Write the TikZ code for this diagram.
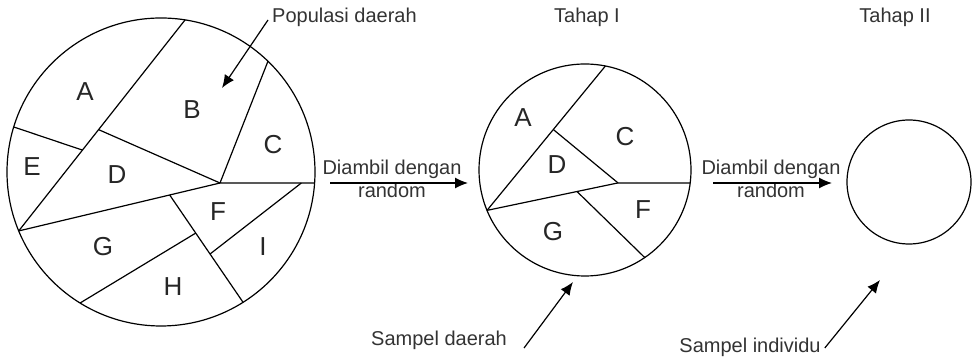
\documentclass[tikz,border=0pt]{standalone}
\usepackage{fontspec}
\setmainfont{Liberation Sans}
\usetikzlibrary{calc}
\usetikzlibrary{arrows.meta}
\tikzset{
   part/.style={draw=black, line width=1.2pt},
   region/.style={font=\fontsize{26}{28}\selectfont, text=black!85, inner sep=0pt},
   caption/.style={font=\fontsize{20}{23}\selectfont, text=black!80, align=center, inner sep=0pt},
   pointer/.style={draw=black, line width=1.2pt, -{Latex[length=13pt,width=11pt]}},
    }

\begin{document}
\begin{tikzpicture}[x=1pt,y=1pt]
            \useasboundingbox (0,0) rectangle (974,363);
            % populasi daerah
            \coordinate (pc) at (161,191);
            \draw[part] (pc) circle[radius=154pt];
            \coordinate (pt) at ($(pc)+(81:154)$);
            \coordinate (pl) at ($(pc)+(202.5:154)$);
            \coordinate (pe) at ($(pc)+(163:154)$);
            \coordinate (pk) at ($(pc)+(46:154)$);
            \coordinate (pr) at ($(pc)+(-4.1:154)$);
            \coordinate (pb) at ($(pc)+(-57.8:154)$);
            \coordinate (ph) at ($(pc)+(238.3:154)$);
            \coordinate (phub) at (pr -| 220,0);
            \coordinate (pfg) at ($(pl)!0.75!(phub)$);
            \draw[part] (pt) to (pl);
            \draw[part] (pe) to ($(pt)!0.617!(pl)$);
            \draw[part] ($(pt)!0.52!(pl)$) to (phub);
            \draw[part] (pk) to (phub) to (pr);
            \draw[part] (pl) to (phub);
            \draw[part] (pfg) to (pb);
            \draw[part] (ph) to ($(pfg)!0.355!(pb)$);
            \draw[part] ($(phub)!0.86!(pr)$) to ($(pfg)!0.55!(pb)$);
            \node[region] (pA) at (85,271) {A};
            \node[region] (pB) at (192,253) {B};
            \node[region] (pC) at (273,218) {C};
            \node[region] (pE) at (32,196) {E};
            \node[region] (pD) at (117,188) {D};
            \node[region] (pF) at (218,151) {F};
            \node[region] (pG) at (103,116) {G};
            \node[region] (pH) at (173,76) {H};
            \node[region] (pI) at (263,116) {I};
            % tahap I
            \coordinate (sc) at (585,193);
            \draw[part] (sc) circle[radius=106pt];
            \coordinate (st) at ($(sc)+(78.9:106)$);
            \coordinate (sl) at ($(sc)+(202.4:106)$);
            \coordinate (sr) at ($(sc)+(-7:106)$);
            \coordinate (sb) at ($(sc)+(-55.7:106)$);
            \coordinate (shub) at (sr -| 618,0);
            \draw[part] (st) to (sl);
            \draw[part] ($(st)!0.44!(sl)$) to (shub) to (sr);
            \draw[part] (sl) to (shub);
            \draw[part] ($(sl)!0.687!(shub)$) to (sb);
            \node[region] (sA) at (523,245) {A};
            \node[region] (sC) at (625,226) {C};
            \node[region] (sD) at (557,198) {D};
            \node[region] (sG) at (553,131) {G};
            \node[region] (sF) at (643,153) {F};
            % tahap II
            \coordinate (ic) at (909,181);
            \draw[part] (ic) circle[radius=62pt];
            % teks dan panah
            \node[caption, anchor=west] (popul) at (272,346) {Populasi daerah};
            \coordinate (popB) at (222,275);
            \draw[pointer] ([xshift=-4pt,yshift=-3pt]popul.west) to (popB);
            \node[caption] (tahap1) at (587,346) {Tahap I};
            \node[caption] (tahap2) at (895,346) {Tahap II};
            \node[caption] (ambil1) at (392,184.5) {Diambil dengan\\random};
            \coordinate (a1s) at (330,180);
            \coordinate (a1e) at (468,180);
            \draw[pointer] (a1s) to (a1e);
            \node[caption] (ambil2) at (771,184.5) {Diambil dengan\\random};
            \coordinate (a2s) at (713,180);
            \coordinate (a2e) at (832,180);
            \draw[pointer] (a2s) to (a2e);
            \node[caption] (sdaerah) at (439,23) {Sampel daerah};
            \coordinate (sdB) at (573,81);
            \draw[pointer] ([xshift=17pt,yshift=-8pt]sdaerah.east) to (sdB);
            \node[caption] (sindiv) at (750,16) {Sampel individu};
            \coordinate (siB) at (880,83);
            \draw[pointer] ([xshift=4pt,yshift=-1pt]sindiv.east) to (siB);
        \end{tikzpicture}
\end{document}
